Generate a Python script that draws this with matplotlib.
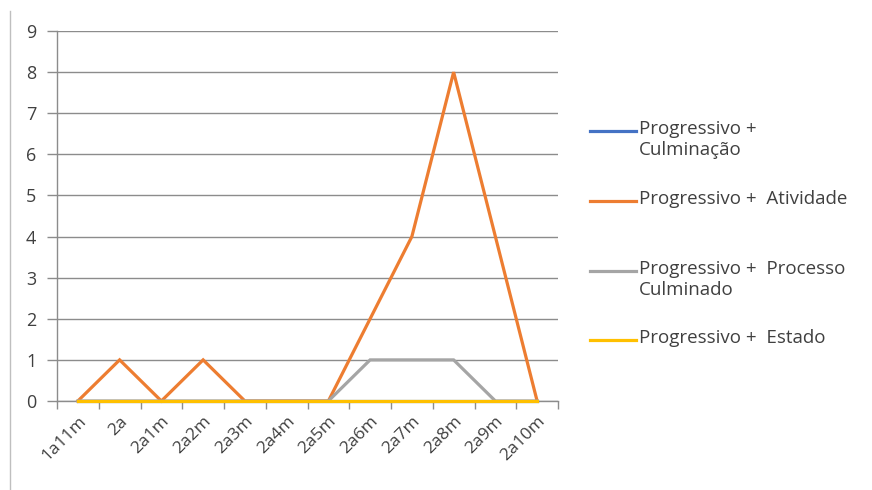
import matplotlib
matplotlib.use("Agg")
import matplotlib.pyplot as plt
from matplotlib.lines import Line2D

# categories (age in years/months) and the four series
categories = ["1a11m", "2a", "2a1m", "2a2m", "2a3m", "2a4m", "2a5m",
              "2a6m", "2a7m", "2a8m", "2a9m", "2a10m"]
culminacao = [0, 0, 0, 0, 0, 0, 0, 0, 0, 0, 0, 0]
atividade = [0, 1, 0, 1, 0, 0, 0, 2, 4, 8, 4, 0]
processo_culminado = [0, 0, 0, 0, 0, 0, 0, 1, 1, 1, 0, 0]
estado = [0, 0, 0, 0, 0, 0, 0, 0, 0, 0, 0, 0]

labels = ["Progressivo +\nCulminação", "Progressivo +  Atividade",
          "Progressivo +  Processo\nCulminado", "Progressivo +  Estado"]
colors = ["#4472C4", "#ED7D31", "#A5A5A5", "#FFC000"]

plt.rcParams["font.family"] = ["Open Sans", "DejaVu Sans"]

W, H = 872, 490
fig = plt.figure(figsize=(W / 100, H / 100), dpi=100)
ax = fig.add_axes([57 / W, 1 - 401 / H, (558 - 57) / W, (401 - 31) / H])

x = list(range(len(categories)))
for ys, c in zip([culminacao, atividade, processo_culminado, estado], colors):
    ax.plot(x, ys, color=c, lw=2.3, solid_joinstyle="miter", clip_on=False,
            zorder=3)

ax.set_xlim(-0.5, len(categories) - 0.5)
ax.set_ylim(0, 9)
ax.set_yticks(range(10))
ax.yaxis.grid(True, color="#8c8c8c", lw=1)
ax.set_axisbelow(True)

# tick marks sit on category boundaries, labels on category centres
ax.set_xticks([i - 0.5 for i in range(len(categories) + 1)])
ax.set_xticklabels([])
ax.set_xticks(x, minor=True)
ax.set_xticklabels(categories, minor=True, rotation=45, ha="right",
                   rotation_mode="anchor", fontsize=12.5, color="#404040")
ax.tick_params(axis="x", which="minor", length=0, pad=9)
ax.tick_params(axis="x", which="major", length=6, color="#8c8c8c", width=1)
ax.tick_params(axis="y", length=7, color="#8c8c8c", width=1,
               labelsize=13, labelcolor="#404040", pad=8)

for s in ["top", "right"]:
    ax.spines[s].set_visible(False)
for s in ["left", "bottom"]:
    ax.spines[s].set_color("#8c8c8c")
    ax.spines[s].set_linewidth(1)

# legend drawn by hand: handle aligned with the first text line
legend_y = [131, 201, 271, 340]
for lab, c, ly in zip(labels, colors, legend_y):
    fig.add_artist(Line2D([590 / W, 636 / W], [1 - ly / H, 1 - ly / H],
                          color=c, lw=2.3))
    fig.text(639 / W, 1 - (ly - 11) / H, lab, ha="left", va="top",
             fontsize=13.5, color="#404040", linespacing=1.2)

# chart area border on the left
fig.add_artist(Line2D([10 / W, 10 / W], [1 - 11 / H, 0], color="#bfbfbf", lw=1))

fig.savefig("out.png", dpi=100)
